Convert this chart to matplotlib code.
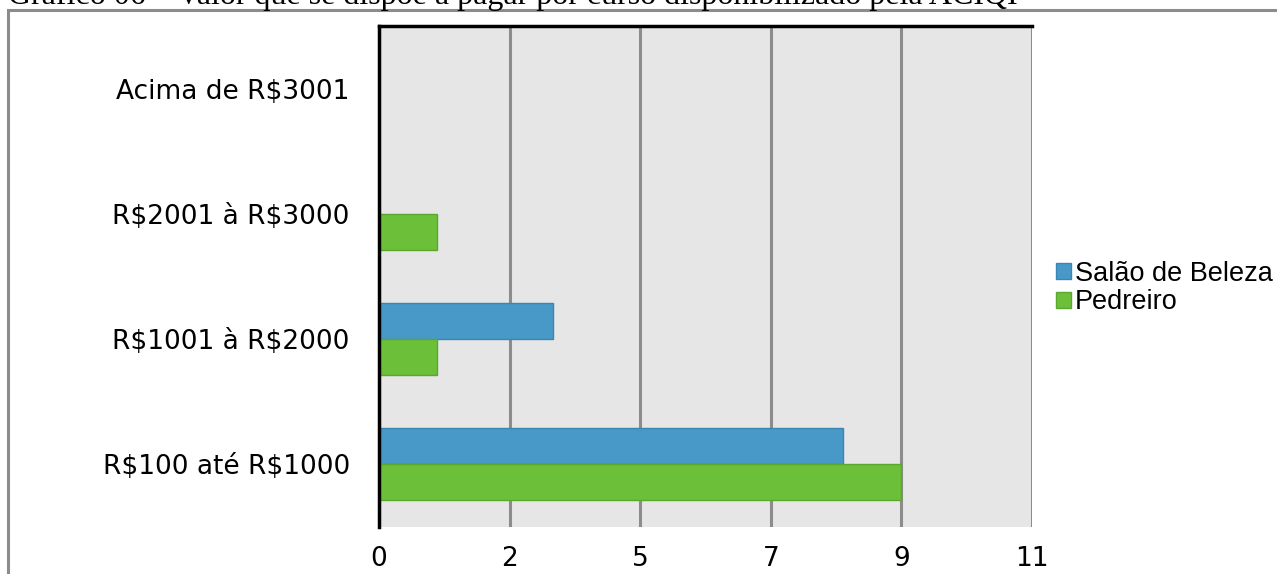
import matplotlib
matplotlib.use("Agg")
import matplotlib.pyplot as plt
from matplotlib.patches import Rectangle, Patch
import numpy as np

title = "Gráfico 06 – Valor que se dispõe a pagar por curso disponibilizado pela ACIQI"
categories = ["R$100 até R$1000", "R$1001 à R$2000", "R$2001 à R$3000", "Acima de R$3001"]
series_names = ["Salão de Beleza", "Pedreiro"]
salao = [8, 3, 0, 0]
pedreiro = [9, 1, 1, 0]
xticks = [0, 2.25, 4.5, 6.75, 9, 11.25]
xtick_labels = ["0", "2", "5", "7", "9", "11"]

W, H = 1277, 574
fig = plt.figure(figsize=(W / 100, H / 100), dpi=100)
fig.patch.set_facecolor("white")

# outer frame
top = 1 - 10 / H
fig.add_artist(Rectangle((8 / W, -0.2), 1.2, top + 0.2,
                         transform=fig.transFigure, fill=False,
                         edgecolor="#8c8c8c", linewidth=2.2, clip_on=False))
fig.text(8 / W, 1 - 4 / H, title, fontsize=23, family="Liberation Serif",
         va="baseline", ha="left", color="black", parse_math=False)

ax = fig.add_axes([379 / W, 1 - 527 / H, 653 / W, 501 / H])
ax.set_facecolor("#e6e6e6")

y = np.arange(len(categories))
h = 0.288
ax.barh(y + h / 2, salao, height=h, color="#4899c8", edgecolor="#3b85b5",
        linewidth=1, label=series_names[0], zorder=3)
ax.barh(y - h / 2, pedreiro, height=h, color="#6cbf38", edgecolor="#5ca82f",
        linewidth=1, label=series_names[1], zorder=3)

ax.set_xlim(0, 11.25)
ax.set_ylim(-0.5, 3.5)
ax.set_xticks(xticks)
ax.set_xticklabels(xtick_labels, fontsize=19, family="DejaVu Sans")
ax.set_yticks(y)
ax.set_yticklabels(categories, fontsize=19, family="DejaVu Sans", parse_math=False)
ax.tick_params(axis="both", length=0)
ax.tick_params(axis="x", pad=14)
ax.tick_params(axis="y", pad=21)
ax.xaxis.grid(True, color="#8c8c8c", linewidth=2.2, zorder=1)
ax.set_axisbelow(True)
for s in ["bottom", "right"]:
    ax.spines[s].set_visible(False)
ax.spines["left"].set_color("black")
ax.spines["left"].set_linewidth(2.5)
ax.spines["left"].set_zorder(5)
ax.spines["top"].set_color("black")
ax.spines["top"].set_linewidth(2.5)

handles = [Patch(facecolor="#4899c8", edgecolor="#3b85b5"),
           Patch(facecolor="#6cbf38", edgecolor="#5ca82f")]
fig.legend(handles, series_names, loc="center left",
           bbox_to_anchor=(1056 / W, 1 - 288 / H), frameon=False,
           prop={"family": "Liberation Sans", "size": 19.5},
           handlelength=0.55, handleheight=0.55, handletextpad=0.15,
           labelspacing=0.1, borderpad=0, borderaxespad=0)

fig.savefig("out.png", dpi=100)
